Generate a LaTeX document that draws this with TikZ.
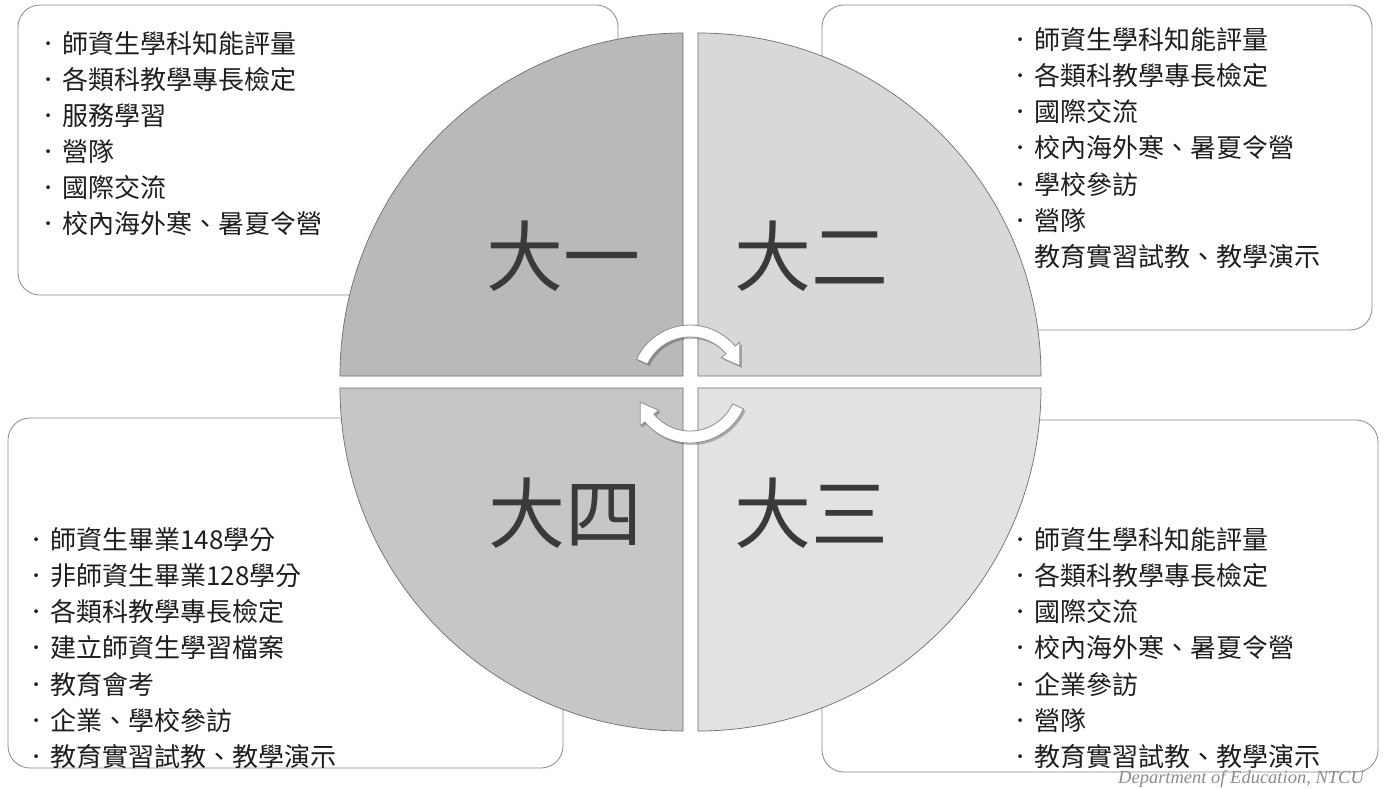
\documentclass[tikz,border=0pt]{standalone}
\usepackage{fontspec}
\setmainfont{Noto Sans CJK TC}
\newfontfamily\wmfont{Liberation Serif}
\newfontfamily\bulfont{DejaVu Sans}
\definecolor{boxline}{HTML}{8A8A8A}
\definecolor{secline}{HTML}{6E6E6E}
\definecolor{txt}{HTML}{1E1E1E}
\definecolor{lbl}{HTML}{3A3A3A}
\definecolor{arrline}{HTML}{8C8C8C}
\definecolor{secA}{HTML}{B9B9B9}
\definecolor{secB}{HTML}{D8D8D8}
\definecolor{secC}{HTML}{E2E2E2}
\definecolor{secD}{HTML}{C6C6C6}
\newcommand\bu{\makebox[28pt][c]{\raisebox{5pt}{\bulfont\fontsize{13}{13}\selectfont •}}}
\newcommand\nobu{\hspace*{28pt}}
\begin{document}
\begin{tikzpicture}[x=1pt,y=-1pt,
  box/.style={draw=boxline, fill=white, line width=0.8pt, rounded corners=22pt, inner sep=0pt},
  sector/.style={draw=secline, line width=0.7pt},
  item/.style={anchor=base west, inner sep=0pt, font=\fontsize{26}{30}\selectfont, text=txt},
  big/.style={anchor=base, inner sep=0pt, font=\fontsize{77}{80}\selectfont, text=lbl},
  cyc/.style={fill=white, draw=arrline, line width=0.8pt},
  cycshadow/.style={fill=black, fill opacity=0.25, draw=none},
  wm/.style={anchor=base west, inner sep=0pt, text=black!45, font=\wmfont\itshape\fontsize{18.5}{20}\selectfont}
]
\useasboundingbox (0,0) rectangle (1384,788);
\fill[white] (0,0) rectangle (1384,788);

% corner boxes
\node[box, minimum width=600pt, minimum height=290pt] (boxA) at (318,150) {};
\node[box, minimum width=550pt, minimum height=325pt] (boxB) at (1097,167.5) {};
\node[box, minimum width=555pt, minimum height=350pt] (boxD) at (285.5,593) {};
\node[box, minimum width=556pt, minimum height=352pt] (boxC) at (1100,596) {};

% quarter sectors
\path[sector, fill=secA] (340,376) arc[start angle=180, end angle=270, radius=343] -- (683,376) -- cycle;
\path[sector, fill=secB] (698,33) arc[start angle=270, end angle=360, radius=343] -- (698,376) -- cycle;
\path[sector, fill=secC] (1041,388) arc[start angle=0, end angle=90, radius=343] -- (698,388) -- cycle;
\path[sector, fill=secD] (683,731) arc[start angle=90, end angle=180, radius=343] -- (683,388) -- cycle;

% box texts
\foreach \t [count=\i] in {師資生學科知能評量, 各類科教學專長檢定, 服務學習, 營隊, 國際交流, 校內海外寒、暑夏令營}
  \node[item] (a\i) at (34, {53+36*(\i-1)}) {\bu\t};
\foreach \t [count=\i] in {師資生學科知能評量, 各類科教學專長檢定, 國際交流, 校內海外寒、暑夏令營, 學校參訪, 營隊}
  \node[item] (b\i) at (1006, {49+36.3*(\i-1)}) {\bu\t};
\node[item] (b7) at (1006, {49+36.3*6}) {\nobu 教育實習試教、教學演示};
\foreach \t [count=\i] in {師資生學科知能評量, 各類科教學專長檢定, 國際交流, 校內海外寒、暑夏令營, 企業參訪, 營隊, 教育實習試教、教學演示}
  \node[item] (c\i) at (1006, {549+36.3*(\i-1)}) {\bu\t};
\foreach \t [count=\i] in {師資生畢業148學分, 非師資生畢業128學分, 各類科教學專長檢定, 建立師資生學習檔案, 教育會考, 企業、學校參訪, 教育實習試教、教學演示}
  \node[item] (d\i) at (22, {549+36.3*(\i-1)}) {\bu\t};

% quadrant labels
\node[big] (qA) at (563,285) {大一};
\node[big] (qB) at (811,285) {大二};
\node[big] (qC) at (811,542) {大三};
\node[big] (qD) at (565,542) {大四};

% circular arrows
\begin{scope}[shift={(692,386)}]
  \path[cycshadow] (-155:59) arc[start angle=-155, end angle=-40, radius=59] -- (-40:65) -- (-20:53) -- (-40:41) -- (-40:47) arc[start angle=-40, end angle=-155, radius=47] -- cycle;
  \path[cycshadow] (25:59) arc[start angle=25, end angle=140, radius=59] -- (140:65) -- (160:53) -- (140:41) -- (140:47) arc[start angle=140, end angle=25, radius=47] -- cycle;
\end{scope}
\begin{scope}[shift={(690,384)}]
  \draw[cyc] (-155:59) arc[start angle=-155, end angle=-40, radius=59] -- (-40:65) -- (-20:53) -- (-40:41) -- (-40:47) arc[start angle=-40, end angle=-155, radius=47] -- cycle;
  \draw[cyc] (25:59) arc[start angle=25, end angle=140, radius=59] -- (140:65) -- (160:53) -- (140:41) -- (140:47) arc[start angle=140, end angle=25, radius=47] -- cycle;
\end{scope}

% watermark
\node[wm] (mark) at (1118,783) {Department of Education, NTCU};
\end{tikzpicture}
\end{document}
